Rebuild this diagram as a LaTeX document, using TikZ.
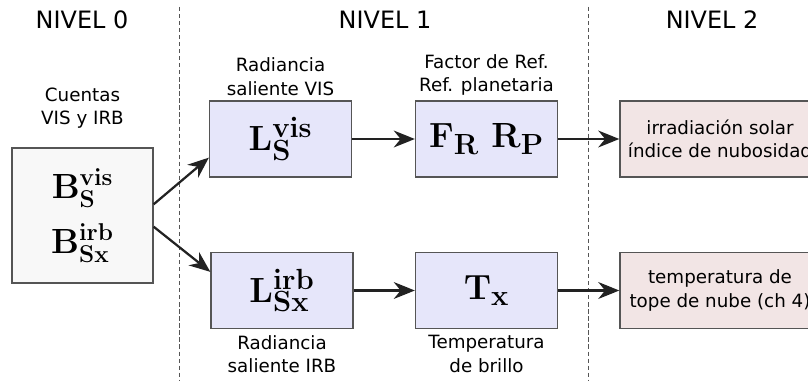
\documentclass[tikz,border=0pt]{standalone}
\usepackage[no-math]{fontspec}
\setmainfont{DejaVu Sans}
\usetikzlibrary{positioning,arrows.meta}

\definecolor{lineagray}{HTML}{555555}
\definecolor{flechagray}{HTML}{222222}
\definecolor{cajalila}{HTML}{E6E6FA}
\definecolor{cajarosa}{HTML}{F2E5E5}
\definecolor{cajagris}{HTML}{F8F8F8}

\begin{document}
\begin{tikzpicture}[x=0.025cm, y=-0.025cm,
    caja/.style={draw=lineagray, line width=0.9pt, inner sep=0pt,
        minimum width=3.55cm, minimum height=1.9cm,
        font=\fontsize{28}{32}\selectfont},
    cajalila/.style={caja, fill=cajalila},
    cajarosa/.style={caja, fill=cajarosa, minimum width=5cm,
        font=\fontsize{13}{16.5}\selectfont, align=center},
    etiqueta/.style={font=\fontsize{13}{16.5}\selectfont, align=center},
    nivel/.style={font=\fontsize{17}{20}\selectfont},
    flecha/.style={-{Stealth[length=15pt, width=12pt]}, line width=1.6pt, flechagray},
    separador/.style={densely dashed, lineagray, line width=0.5pt}]
    \useasboundingbox (0,0) rectangle (808,381);

    % separadores de nivel
    \draw[separador] (179,7) -- (179,381);
    \draw[separador] (588,7) -- (588,381);

    \node[nivel] (n0) at (82,20) {NIVEL 0};
    \node[nivel] (n1) at (385,20) {NIVEL 1};
    \node[nivel] (n2) at (712,20) {NIVEL 2};

    % nivel 0
    \node[caja, fill=cajagris, minimum width=3.525cm, minimum height=3.375cm,
        align=center, font=\fontsize{25}{30}\selectfont] (cuentas) at (82.5,215.5)
        {$\mathbf{B_S^{vis}}$\\[9pt] $\mathbf{B_{Sx}^{irb}}$};
    \node[etiqueta, above=0.35cm of cuentas] (lcuentas) {Cuentas\\VIS y IRB};

    % nivel 1
    \node[cajalila] (lvis) at (280.5,139) {$\mathbf{L_S^{vis}}$};
    \node[cajalila] (frp) at (486.5,139) {$\mathbf{F_R\ R_P}$};
    \node[cajalila] (lirb) at (282,290.5) {$\mathbf{L_{Sx}^{irb}}$};
    \node[cajalila] (tx) at (486.5,290.5) {$\mathbf{T_x}$};

    \node[etiqueta, above=0pt of lvis] (llvis) {Radiancia\\saliente VIS};
    \node[etiqueta, above=0pt of frp] (lfrp) {Factor de Ref.\\Ref. planetaria};
    \node[etiqueta, below=1pt of lirb] (llirb) {Radiancia\\saliente IRB};
    \node[etiqueta, below=1pt of tx] (ltx) {Temperatura\\de brillo};

    % nivel 2
    \node[cajarosa] (irr) at (720,139) {irradiación solar\\índice de nubosidad};
    \node[cajarosa] (ttope) at (720,290.5) {temperatura de\\tope de nube (ch 4)};

    % flechas
    \draw[flecha] ([yshift=0.28cm]cuentas.east) -- ([yshift=0.5cm]lvis.south west);
    \draw[flecha] ([yshift=-0.28cm]cuentas.east) -- ([yshift=-0.5cm]lirb.north west);
    \draw[flecha] (lvis) -- (frp);
    \draw[flecha] (frp) -- (irr);
    \draw[flecha] (lirb) -- (tx);
    \draw[flecha] (tx) -- (ttope);
\end{tikzpicture}
\end{document}
